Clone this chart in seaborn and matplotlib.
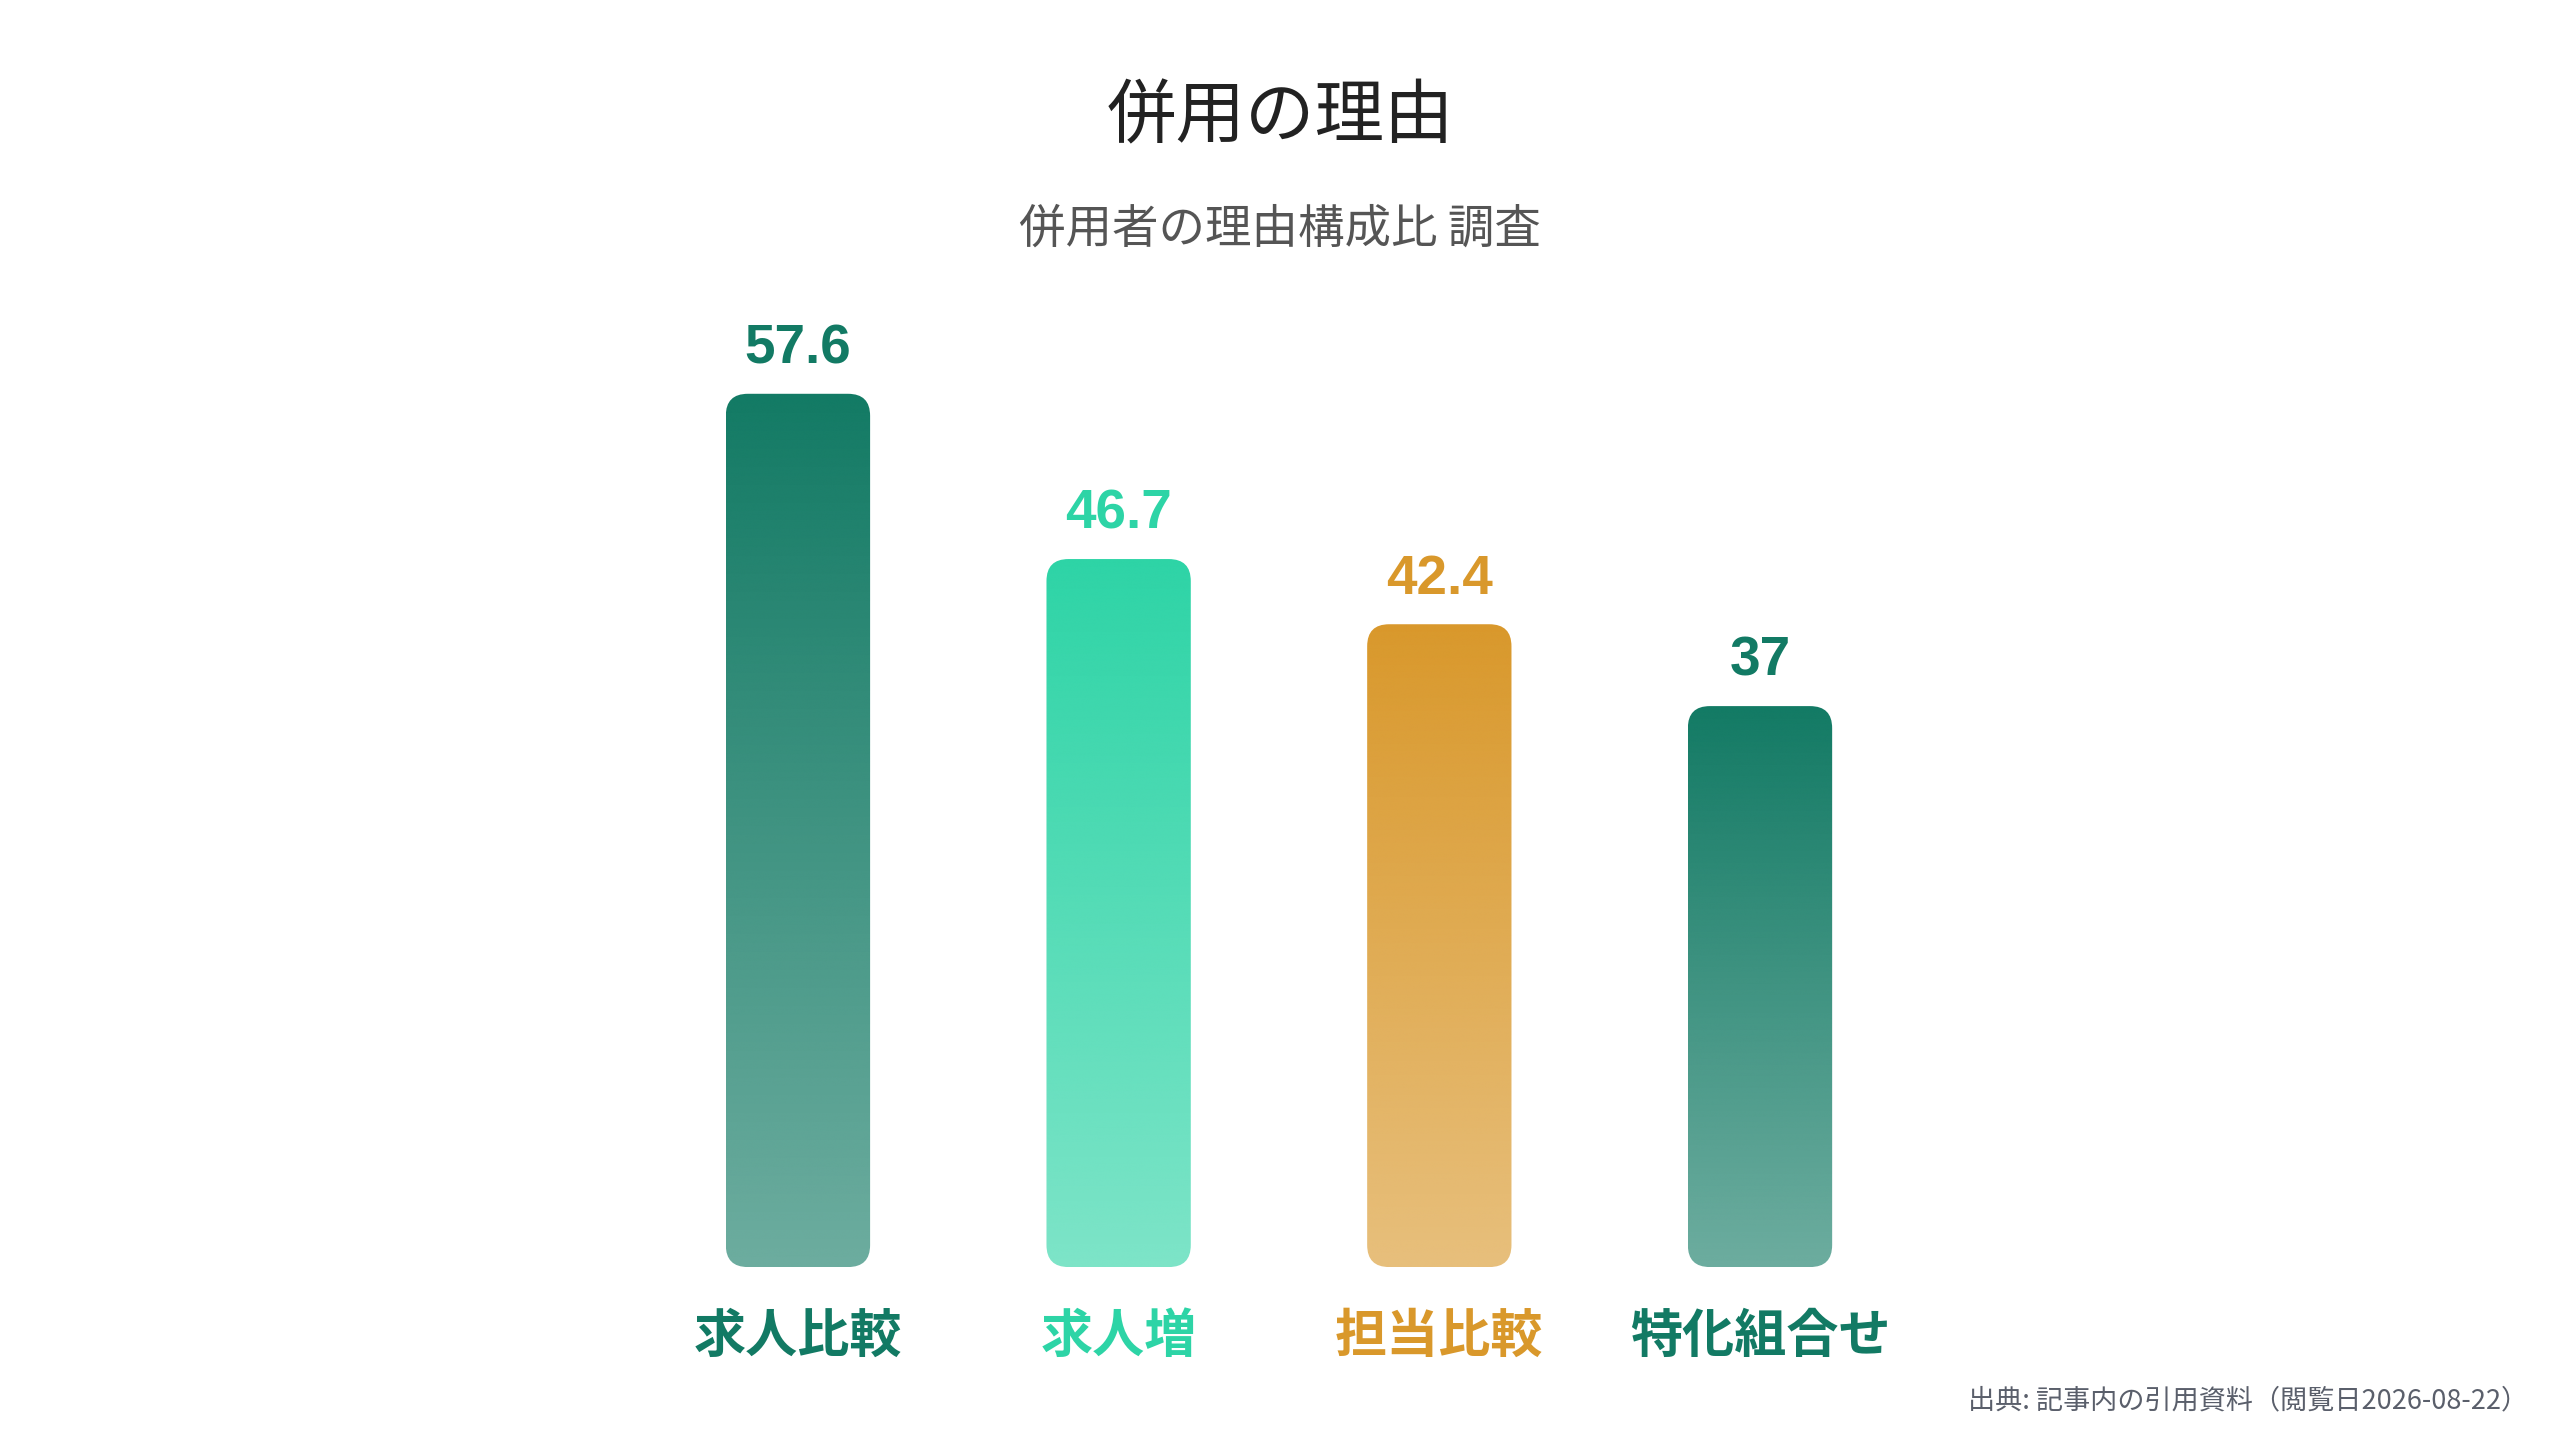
import numpy as np
import pandas as pd
import seaborn as sns
import matplotlib.pyplot as plt
from matplotlib.colors import to_rgb
from matplotlib.patches import FancyBboxPatch

sns.set_theme(style="white")
plt.rcParams['font.family'] = ['Noto Sans CJK JP', 'DejaVu Sans']

# data
categories = ["求人比較", "求人増", "担当比較", "特化組合せ"]
values = [57.6, 46.7, 42.4, 37]
value_labels = ["57.6", "46.7", "42.4", "37"]
colors = ["#127A64", "#2DD4A6", "#D9982B", "#127A64"]

df = pd.DataFrame({"category": categories, "value": values})

fig = plt.figure(figsize=(25.6, 14.4), dpi=100)
ax = fig.add_axes([0.1238, 0.1201, 0.7516, 0.6317])

sns.barplot(data=df, x="category", y="value", hue="category", palette=colors,
            width=0.45, legend=False, ax=ax)
ax.set_xlim(-1.5, 4.5)
ax.set_ylim(0, 60)

# size of one pixel in data units, for round corners
fig.canvas.draw()
p0 = ax.transData.inverted().transform((0, 0))
p1 = ax.transData.inverted().transform((1, 1))
dx, dy = p1[0] - p0[0], p1[1] - p0[1]
radius_px = 22

for bar, col in zip(ax.patches, colors):
    x0, w, h = bar.get_x(), bar.get_width(), bar.get_height()
    bar.set_visible(False)
    box = FancyBboxPatch((x0, 0), w, h,
                         boxstyle="round,pad=0,rounding_size=%f" % (radius_px * dx),
                         mutation_aspect=dy / dx, facecolor="none", edgecolor="none",
                         transform=ax.transData)
    ax.add_patch(box)
    # vertical gradient: full colour at top, fading to ~62% at the bottom
    rgb = to_rgb(col)
    grad = np.zeros((256, 1, 4))
    grad[:, 0, :3] = rgb
    grad[:, 0, 3] = np.linspace(1.0, 0.62, 256)
    im = ax.imshow(grad, extent=(x0, x0 + w, 0, h), origin="upper",
                   aspect="auto", interpolation="bicubic", zorder=2)
    im.set_clip_path(box)

for i, (v, lab, col) in enumerate(zip(values, value_labels, colors)):
    ax.annotate(lab, (i, v), xytext=(0, 32), textcoords="offset points",
                ha="center", va="center", fontsize=39.5, fontweight="bold",
                color=col, family=['Liberation Sans', 'DejaVu Sans'])

ax.set_xlabel("")
ax.set_ylabel("")
ax.set_yticks([])
ax.tick_params(axis="x", length=0, pad=31)
for t, col in zip(ax.get_xticklabels(), colors):
    t.set_color(col)
    t.set_fontsize(37.5)
    t.set_fontweight("bold")
sns.despine(ax=ax, left=True, bottom=True)

fig.text(0.5, 0.918, "併用の理由", ha="center", va="center", fontsize=50, color="#222222")
fig.text(0.5, 0.841, "併用者の理由構成比 調査", ha="center", va="center", fontsize=33.5, color="#555555")
fig.text(0.9875, 0.027, "出典: 記事内の引用資料（閲覧日2026-08-22）", ha="right", va="center",
         fontsize=19.5, color="#5a5f6b")

plt.savefig("out.png", dpi=100)
